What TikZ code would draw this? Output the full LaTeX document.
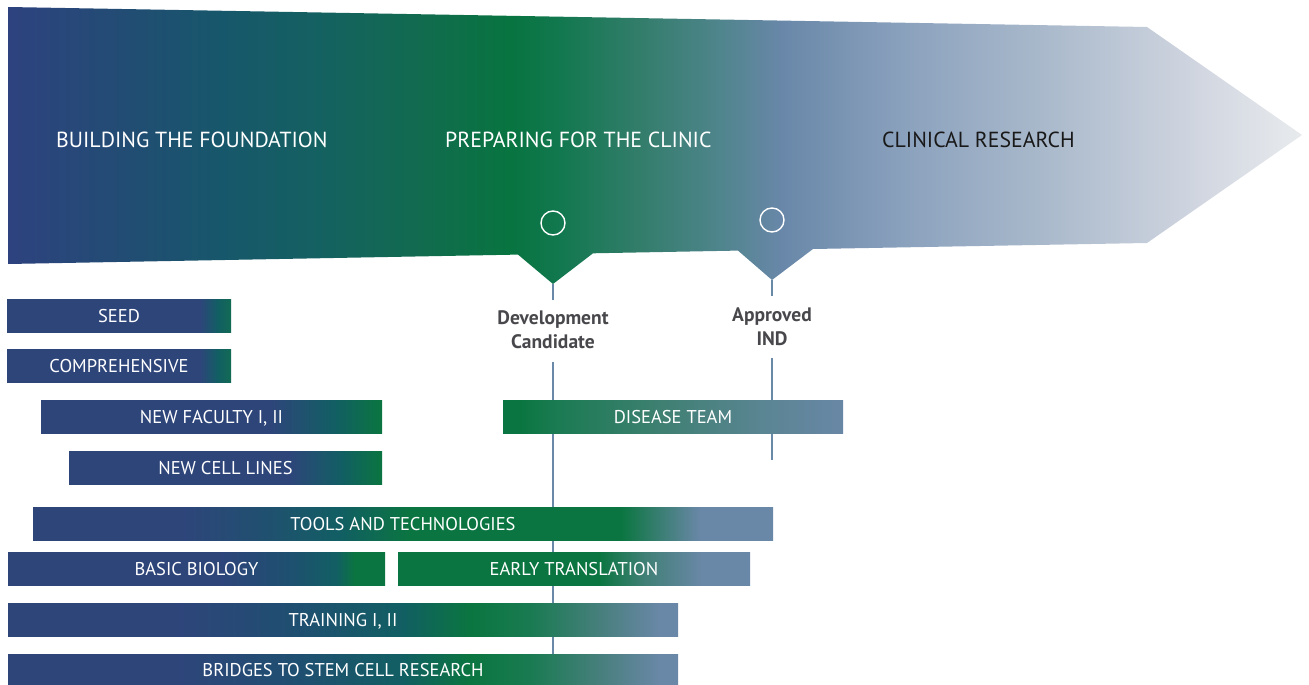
\documentclass[tikz,border=0pt]{standalone}
\usepackage{fontspec}
\setmainfont{PT Sans}
\definecolor{steel}{RGB}{106,136,168}
\definecolor{lblgray}{RGB}{72,72,76}
\pgfdeclarehorizontalshading{arrowsh}{100bp}{%
rgb(0bp)=(0.18,0.26,0.50); rgb(25bp)=(0.18,0.26,0.50);
rgb(29.7bp)=(0.13,0.30,0.45); rgb(33.2bp)=(0.09,0.34,0.42);
rgb(37.05bp)=(0.08,0.38,0.38); rgb(40.9bp)=(0.07,0.42,0.31);
rgb(44.4bp)=(0.03,0.455,0.25); rgb(46.35bp)=(0.07,0.47,0.31);
rgb(49.45bp)=(0.20,0.49,0.42); rgb(52.5bp)=(0.31,0.52,0.55);
rgb(54.85bp)=(0.41,0.53,0.66); rgb(59.5bp)=(0.54,0.63,0.74);
rgb(65.25bp)=(0.67,0.73,0.80); rgb(71.05bp)=(0.82,0.84,0.88);
rgb(75bp)=(0.91,0.92,0.93); rgb(100bp)=(0.91,0.92,0.93)}
\pgfdeclarehorizontalshading{seedsh}{100bp}{%
rgb(0bp)=(0.18,0.27,0.48); rgb(25bp)=(0.18,0.27,0.48);
rgb(68bp)=(0.18,0.27,0.48); rgb(72bp)=(0.07,0.37,0.39);
rgb(75bp)=(0.07,0.42,0.33); rgb(100bp)=(0.07,0.42,0.33)}
\pgfdeclarehorizontalshading{newfacsh}{100bp}{%
rgb(0bp)=(0.18,0.27,0.48); rgb(25bp)=(0.18,0.27,0.48);
rgb(58.5bp)=(0.18,0.27,0.48); rgb(68bp)=(0.07,0.37,0.39);
rgb(75bp)=(0.04,0.46,0.25); rgb(100bp)=(0.04,0.46,0.25)}
\pgfdeclarehorizontalshading{newcellsh}{100bp}{%
rgb(0bp)=(0.18,0.27,0.48); rgb(25bp)=(0.18,0.27,0.48);
rgb(60bp)=(0.18,0.27,0.48); rgb(68.5bp)=(0.07,0.37,0.39);
rgb(75bp)=(0.04,0.46,0.25); rgb(100bp)=(0.04,0.46,0.25)}
\pgfdeclarehorizontalshading{diseasesh}{100bp}{%
rgb(0bp)=(0.04,0.46,0.25); rgb(27.5bp)=(0.04,0.46,0.25);
rgb(32.5bp)=(0.10,0.48,0.32); rgb(47.5bp)=(0.24,0.50,0.44);
rgb(62.5bp)=(0.35,0.52,0.57); rgb(75bp)=(0.41,0.53,0.65);
rgb(100bp)=(0.41,0.53,0.65)}
\pgfdeclarehorizontalshading{toolssh}{100bp}{%
rgb(0bp)=(0.18,0.27,0.48); rgb(25bp)=(0.18,0.27,0.48);
rgb(35bp)=(0.18,0.27,0.48); rgb(40.3bp)=(0.13,0.31,0.44);
rgb(45.7bp)=(0.07,0.37,0.39); rgb(50.5bp)=(0.04,0.46,0.25);
rgb(64.7bp)=(0.04,0.46,0.25); rgb(70bp)=(0.41,0.53,0.65);
rgb(75bp)=(0.41,0.53,0.65); rgb(100bp)=(0.41,0.53,0.65)}
\pgfdeclarehorizontalshading{basicsh}{100bp}{%
rgb(0bp)=(0.18,0.27,0.48); rgb(25bp)=(0.18,0.27,0.48);
rgb(53bp)=(0.18,0.27,0.48); rgb(62bp)=(0.12,0.31,0.44);
rgb(68.5bp)=(0.07,0.37,0.39); rgb(71bp)=(0.04,0.46,0.25);
rgb(75bp)=(0.04,0.46,0.25); rgb(100bp)=(0.04,0.46,0.25)}
\pgfdeclarehorizontalshading{earlysh}{100bp}{%
rgb(0bp)=(0.04,0.46,0.25); rgb(25bp)=(0.04,0.46,0.25);
rgb(53.5bp)=(0.04,0.46,0.25); rgb(60bp)=(0.25,0.50,0.46);
rgb(68bp)=(0.41,0.53,0.65); rgb(75bp)=(0.41,0.53,0.65);
rgb(100bp)=(0.41,0.53,0.65)}
\pgfdeclarehorizontalshading{trainsh}{100bp}{%
rgb(0bp)=(0.18,0.27,0.48); rgb(25bp)=(0.18,0.27,0.48);
rgb(37.5bp)=(0.18,0.27,0.48); rgb(46.8bp)=(0.12,0.31,0.44);
rgb(54.3bp)=(0.07,0.37,0.39); rgb(59.5bp)=(0.04,0.46,0.25);
rgb(64bp)=(0.10,0.48,0.32); rgb(69.5bp)=(0.29,0.50,0.50);
rgb(73.5bp)=(0.41,0.53,0.65); rgb(75bp)=(0.41,0.53,0.65);
rgb(100bp)=(0.41,0.53,0.65)}
\tikzset{
  bar/.style={shade, shading=#1, minimum height=33pt, inner sep=0pt,
    text=white, font=\fontsize{18.5}{21}\selectfont, text height=13pt, text depth=0pt},
  phase/.style={anchor=base west, inner sep=0pt, font=\fontsize{21.8}{25}\selectfont},
  milestone/.style={circle, draw=white, line width=1.4pt, minimum size=24pt, inner sep=0pt},
  mslabel/.style={anchor=north, align=center, inner sep=0pt, text=lblgray,
    font=\bfseries\fontsize{19.5}{24}\selectfont},
  msline/.style={draw=steel, line width=1.6pt}
}
\begin{document}
\begin{tikzpicture}[x=1pt,y=-1pt]
\useasboundingbox (0,0) rectangle (1309,685);
% main arrow
\shade[shading=arrowsh] (8,7) -- (1147,27) -- (1302,135) -- (1147,243)
  -- (813,249) -- (772,280) -- (738,250.6) -- (593,253.3) -- (553,284)
  -- (518,254.6) -- (8,264) -- cycle;
\coordinate (devtip) at (553,284);
\coordinate (indtip) at (772,280);
\node[milestone] (devc) at (553,223) {};
\node[milestone] (indc) at (772,220) {};
\node[phase, text=white] (p1) at (56,147) {BUILDING THE FOUNDATION};
\node[phase, text=white] (p2) at (445,147) {PREPARING FOR THE CLINIC};
\node[phase, text=black!90] (p3) at (882,147) {CLINICAL RESEARCH};
% milestone labels
\node[mslabel] (devl) at (553,310) {Development\\Candidate};
\node[mslabel] (indl) at (772,308) {Approved\\IND};
% milestone lines (behind the bars)
\coordinate (devend) at (553,654);
\coordinate (indend) at (772,460);
\draw[msline, shorten >=10pt] (devtip) -- (devl.north);
\draw[msline, shorten <=13pt] (devl.south) -- (devend);
\draw[msline, shorten >=12pt] (indtip) -- (indl.north);
\draw[msline, shorten <=12pt] (indl.south) -- (indend);
% bars
\node[bar=seedsh, minimum width=224pt] (seed) at (119,316) {SEED};
\node[bar=seedsh, minimum width=224pt] (comp) at (119,366) {COMPREHENSIVE};
\node[bar=newfacsh, minimum width=341pt] (newfac) at (211.5,417) {NEW FACULTY I, II};
\node[bar=newcellsh, minimum width=313pt] (newcell) at (225.5,468) {NEW CELL LINES};
\node[bar=diseasesh, minimum width=340pt] (disease) at (673,417) {DISEASE TEAM};
\node[bar=toolssh, minimum width=740pt] (tools) at (403,524) {TOOLS AND TECHNOLOGIES};
\node[bar=basicsh, minimum width=377pt] (basic) at (196.5,568.5) {BASIC BIOLOGY};
\node[bar=earlysh, minimum width=352pt] (early) at (574,568.5) {EARLY TRANSLATION};
\node[bar=trainsh, minimum width=670pt] (train) at (343,619.5) {TRAINING I, II};
\node[bar=trainsh, minimum width=670pt, minimum height=32pt] (bridges) at (343,670) {BRIDGES TO STEM CELL RESEARCH};
\end{tikzpicture}
\end{document}
